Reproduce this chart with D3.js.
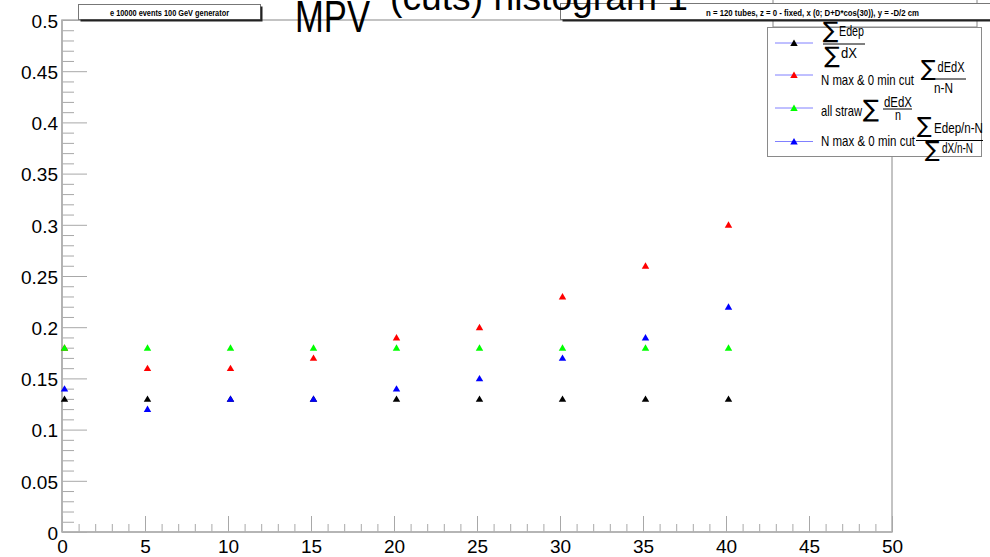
<!DOCTYPE html>
<html><head><meta charset="utf-8">
<script src="https://cdn.jsdelivr.net/npm/d3@7/dist/d3.min.js"></script>
<style>body{margin:0;background:#fff} svg{display:block}</style>
</head><body>
<svg id="c" width="990" height="557"></svg>
<script>
// ---------------- data ----------------
const xValues = [0, 5, 10, 15, 20, 25, 30, 35, 40];
const sumEdepOverSumDx = [0.13, 0.13, 0.13, 0.13, 0.13, 0.13, 0.13, 0.13, 0.13];
const nMaxCutDEdX      = [0.18, 0.16, 0.16, 0.17, 0.19, 0.20, 0.23, 0.26, 0.30];
const allStrawDEdX     = [0.18, 0.18, 0.18, 0.18, 0.18, 0.18, 0.18, 0.18, 0.18];
const nMaxCutRatio     = [0.14, 0.12, 0.13, 0.13, 0.14, 0.15, 0.17, 0.19, 0.22];
const seriesColors = ["#000000", "#ff0000", "#00ff00", "#0000ff"];
const xTickValues = [0, 5, 10, 15, 20, 25, 30, 35, 40, 45, 50];
const xTickLabels = ["0", "5", "10", "15", "20", "25", "30", "35", "40", "45", "50"];
const yTickValues = [0, 0.05, 0.1, 0.15, 0.2, 0.25, 0.3, 0.35, 0.4, 0.45, 0.5];
const yTickLabels = ["0", "0.05", "0.1", "0.15", "0.2", "0.25", "0.3", "0.35", "0.4", "0.45", "0.5"];
const titleMain = "MPV";
const titleSup = "(cuts) histogram 1";
const infoLeft = "e 10000 events 100 GeV  generator";
const infoRight = "n = 120 tubes, z = 0 - fixed, x (0; D+D*cos(30)), y = -D/2 cm";

const series = [
  { values: sumEdepOverSumDx, color: seriesColors[0] },
  { values: nMaxCutDEdX,      color: seriesColors[1] },
  { values: allStrawDEdX,     color: seriesColors[2] },
  { values: nMaxCutRatio,     color: seriesColors[3] }
];

// ---------------- layout ----------------
const svg = d3.select("#c");
const FONT = "'Liberation Sans', Arial, Helvetica, sans-serif";
const L = 62, R = 892, T = 20, B = 532;
const x = d3.scaleLinear().domain([0, 50]).range([L, R]);
const y = d3.scaleLinear().domain([0, 0.5]).range([B, T]);
const axisColor = "#b0b0b0";

// frame
svg.append("rect").attr("x", L).attr("y", T).attr("width", R - L).attr("height", B - T)
  .attr("fill", "none").attr("stroke", axisColor).attr("stroke-width", 1.5);

// minor ticks
const yMinor = d3.range(0, 51).map(i => i / 100).filter((d, i) => i % 5 !== 0);
svg.append("g").attr("transform", `translate(${L},0)`)
  .call(d3.axisLeft(y).tickValues(yMinor).tickSize(-12).tickFormat(""))
  .call(g => g.select(".domain").remove())
  .selectAll("line").attr("stroke", "#a8a8a8");
const xMinor = d3.range(0, 51).filter(d => d % 5 !== 0);
svg.append("g").attr("transform", `translate(0,${B})`)
  .call(d3.axisBottom(x).tickValues(xMinor).tickSize(-8).tickFormat(""))
  .call(g => g.select(".domain").remove())
  .selectAll("line").attr("stroke", "#a8a8a8");

// major axes
const gy = svg.append("g").attr("transform", `translate(${L},0)`)
  .call(d3.axisLeft(y).tickValues(yTickValues).tickSize(-25).tickPadding(4)
        .tickFormat((d, i) => yTickLabels[i]));
gy.select(".domain").remove();
gy.selectAll("line").attr("stroke", "#a8a8a8");
gy.selectAll("text").attr("font-family", FONT).attr("font-size", 19).attr("fill", "#000").attr("dy", "0.38em");

const gx = svg.append("g").attr("transform", `translate(0,${B})`)
  .call(d3.axisBottom(x).tickValues(xTickValues).tickSize(-16).tickPadding(8)
        .tickFormat((d, i) => xTickLabels[i]));
gx.select(".domain").remove();
gx.selectAll("line").attr("stroke", "#a8a8a8");
gx.selectAll("text").attr("font-family", FONT).attr("font-size", 19).attr("fill", "#000");

// axis lines on top
svg.append("line").attr("x1", L).attr("x2", L).attr("y1", T).attr("y2", B).attr("stroke", axisColor).attr("stroke-width", 1.6);
svg.append("line").attr("x1", L).attr("x2", R).attr("y1", B).attr("y2", B).attr("stroke", axisColor).attr("stroke-width", 1.6);

// markers
const tri = d3.symbol().type(d3.symbolTriangle).size(24);
const markerNudge = 2.5;
series.forEach(s => {
  svg.append("g").selectAll("path").data(xValues.map((xv, i) => [xv, s.values[i]]))
    .join("path")
    .attr("d", tri)
    .attr("transform", d => `translate(${x(d[0]) + markerNudge},${y(d[1]) + 0.8})`)
    .attr("fill", s.color);
});

// ---------------- info boxes ----------------
function pave(x0, y0, w, h) {
  svg.append("rect").attr("x", x0).attr("y", y0).attr("width", w).attr("height", h)
    .attr("fill", "#fff").attr("stroke", "#777").attr("stroke-width", 1);
  svg.append("path").attr("d", `M${x0 + 2},${y0 + h + 1}H${x0 + w + 1}V${y0 + 2}`)
    .attr("fill", "none").attr("stroke", "#222").attr("stroke-width", 2);
}
// hidden box at top right
svg.append("rect").attr("x", 773).attr("y", -30).attr("width", 204).attr("height", 57)
  .attr("fill", "#fff").attr("stroke", "#888").attr("stroke-width", 1);

pave(78.5, 4.5, 182, 15);
svg.append("text").attr("x", 110).attr("y", 15.5).attr("font-family", FONT).attr("font-size", 9)
  .attr("font-weight", "bold").attr("textLength", 119).attr("lengthAdjust", "spacingAndGlyphs").text(infoLeft);

pave(560.5, 3.5, 460, 16);
svg.append("text").attr("x", 706).attr("y", 15.5).attr("font-family", FONT).attr("font-size", 9)
  .attr("font-weight", "bold").attr("textLength", 213).attr("lengthAdjust", "spacingAndGlyphs").text(infoRight);

// ---------------- title ----------------
svg.append("text").attr("x", 295).attr("y", 32).attr("font-family", FONT).attr("font-size", 44)
  .attr("textLength", 75).attr("lengthAdjust", "spacingAndGlyphs").text(titleMain);
svg.append("text").attr("x", 390).attr("y", 10).attr("font-family", FONT).attr("font-size", 36)
  .attr("textLength", 298).attr("lengthAdjust", "spacingAndGlyphs").text(titleSup);

// ---------------- legend ----------------
const lg = svg.append("g");
lg.append("rect").attr("x", 767.5).attr("y", 27.5).attr("width", 214).attr("height", 129)
  .attr("fill", "#fff").attr("stroke", "#8a8a8a").attr("stroke-width", 1);
const rowY = [43, 75, 108, 141.5];
series.forEach((s, i) => {
  lg.append("line").attr("x1", 775).attr("x2", 813).attr("y1", rowY[i]).attr("y2", rowY[i])
    .attr("stroke", "#8080ff").attr("stroke-width", 1);
  lg.append("path").attr("d", tri).attr("transform", `translate(794,${rowY[i] + 0.8})`).attr("fill", s.color);
});
// label pieces: [kind, text, x, dy, size, length]
const legendPieces = [
  [ ["s", "∑", 830.5, -13, 23], ["t", "Edep", 839, -13, 15, 25], ["b", "", 823, 1, 0, 42],
    ["s", "∑", 832, 12, 23], ["t", "dX", 841, 9, 15, 16] ],
  [ ["t", "N max & 0 min cut", 821, 4, 15, 93], ["s", "∑", 928.5, -7, 22], ["t", "dEdX", 937.5, -8, 14, 27],
    ["b", "", 921, 4, 0, 45], ["t", "n-N", 934, 13, 14, 19] ],
  [ ["t", "all straw", 821, 2, 15, 41], ["s", "∑", 871, 0.5, 24], ["t", "dEdX", 884, -6.5, 14, 28],
    ["b", "", 883, 1, 0, 29], ["t", "n", 895, 7, 14, 6] ],
  [ ["t", "N max & 0 min cut", 821, -1, 15, 94], ["s", "∑", 924.5, -16, 22], ["t", "Edep/n-N", 934, -14, 15, 49],
    ["b", "", 916, -1, 0, 67], ["s", "∑", 932.5, 8, 22], ["t", "dX/n-N", 942, 6, 15, 31] ]
];
legendPieces.forEach((pieces, i) => {
  pieces.forEach(p => {
    const [kind, txt, px, dy, size, len] = p;
    if (kind === "b") {
      lg.append("line").attr("x1", px).attr("x2", px + len).attr("y1", rowY[i] + dy).attr("y2", rowY[i] + dy)
        .attr("stroke", "#000").attr("stroke-width", 1);
    } else if (kind === "s") {
      lg.append("text").attr("x", px).attr("y", rowY[i] + dy).attr("text-anchor", "middle")
        .attr("dominant-baseline", "central").attr("font-family", "'DejaVu Sans', sans-serif")
        .attr("font-size", size).attr("fill", "#000").text(txt);
    } else {
      lg.append("text").attr("x", px).attr("y", rowY[i] + dy).attr("dominant-baseline", "central")
        .attr("font-family", FONT).attr("font-size", size).attr("fill", "#000")
        .attr("textLength", len).attr("lengthAdjust", "spacingAndGlyphs").text(txt);
    }
  });
});
</script>
</body></html>
